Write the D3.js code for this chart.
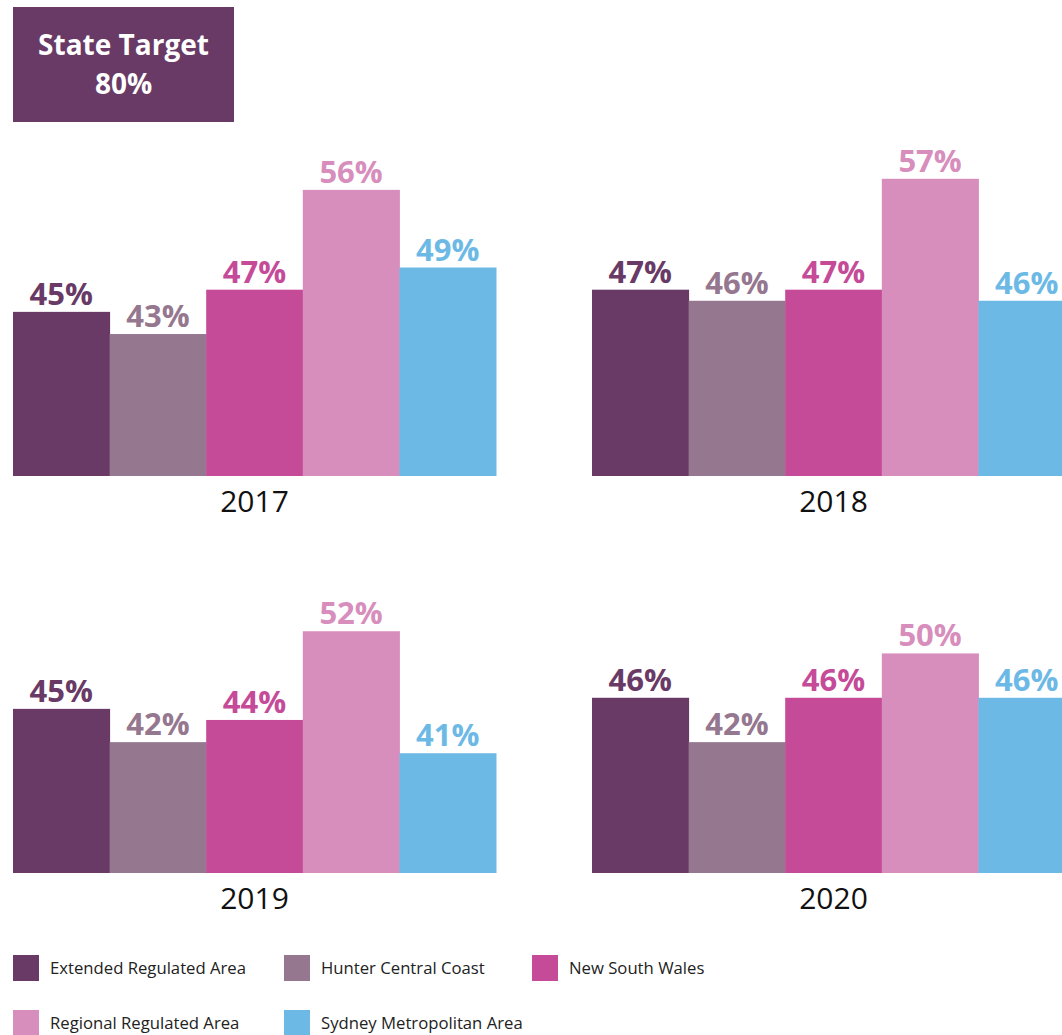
<!DOCTYPE html>
<html>
<head>
<meta charset="utf-8">
<script src="https://cdn.jsdelivr.net/npm/d3@7"></script>
<style>
  html, body { margin: 0; padding: 0; background: #fff; }
  svg { display: block; font-family: "Open Sans", "Noto Sans", sans-serif; }
</style>
</head>
<body>
<svg id="chart" width="1062" height="1035"></svg>
<script>
// Share of target met, by region and year
const categories = [
  "Extended Regulated Area",
  "Hunter Central Coast",
  "New South Wales",
  "Regional Regulated Area",
  "Sydney Metropolitan Area"
];
const years = ["2017", "2018", "2019", "2020"];
const values2017 = [45, 43, 47, 56, 49];
const values2018 = [47, 46, 47, 57, 46];
const values2019 = [45, 42, 44, 52, 41];
const values2020 = [46, 42, 46, 50, 46];
const stateTarget = 80;

const colors = ["#683a65", "#957790", "#c54b98", "#d78ebc", "#6db9e6"];

const svg = d3.select("#chart");

// State target badge
const badge = svg.append("g");
badge.append("rect")
  .attr("x", 13).attr("y", 7).attr("width", 221).attr("height", 115)
  .attr("fill", "#683a65");
badge.append("text")
  .attr("x", 123.5).attr("y", 55)
  .attr("text-anchor", "middle")
  .attr("fill", "#fff").attr("font-weight", 700).attr("font-size", 28)
  .text("State Target");
badge.append("text")
  .attr("x", 123.5).attr("y", 94)
  .attr("text-anchor", "middle")
  .attr("fill", "#fff").attr("font-weight", 700).attr("font-size", 28)
  .text(stateTarget + "%");

// Four small-multiple panels
const panelWidth = 483;
const panels = [
  { year: years[0], values: values2017, x0: 13,  base: 476 },
  { year: years[1], values: values2018, x0: 592, base: 476 },
  { year: years[2], values: values2019, x0: 13,  base: 873 },
  { year: years[3], values: values2020, x0: 592, base: 873 }
];

const yMin = 30.2, yMax = 60;
const pxPerUnit = 11.09;

panels.forEach(p => {
  const x = d3.scaleBand().domain(categories).range([p.x0, p.x0 + panelWidth]).padding(0);
  const y = d3.scaleLinear().domain([yMin, yMax]).range([p.base, p.base - (yMax - yMin) * pxPerUnit]);
  const rows = categories.map((c, i) => ({ c, v: p.values[i], color: colors[i] }));
  const g = svg.append("g");

  g.selectAll("rect").data(rows).join("rect")
    .attr("x", d => x(d.c))
    .attr("y", d => y(d.v))
    .attr("width", x.bandwidth() + 0.5)
    .attr("height", d => y(yMin) - y(d.v))
    .attr("fill", d => d.color);

  g.selectAll("text.val").data(rows).join("text")
    .attr("class", "val")
    .attr("x", d => x(d.c) + x.bandwidth() / 2)
    .attr("y", d => y(d.v) - 7)
    .attr("text-anchor", "middle")
    .attr("font-weight", 700)
    .attr("font-size", 31)
    .attr("fill", d => d.color)
    .text(d => d.v + "%");

  g.append("text")
    .attr("x", p.x0 + panelWidth / 2)
    .attr("y", p.base + 36)
    .attr("text-anchor", "middle")
    .attr("font-size", 30)
    .attr("fill", "#111")
    .text(p.year);
});

// Legend
const legendPos = [
  { x: 13, y: 955 }, { x: 284, y: 955 }, { x: 532, y: 955 },
  { x: 13, y: 1010 }, { x: 284, y: 1010 }
];
const legend = svg.append("g");
const items = legend.selectAll("g").data(categories).join("g")
  .attr("transform", (d, i) => `translate(${legendPos[i].x},${legendPos[i].y})`);
items.append("rect")
  .attr("width", 26).attr("height", 26)
  .attr("fill", (d, i) => colors[i]);
items.append("text")
  .attr("x", 37).attr("y", 19)
  .attr("font-size", 16.7)
  .attr("fill", "#222")
  .text(d => d);
</script>
</body>
</html>
